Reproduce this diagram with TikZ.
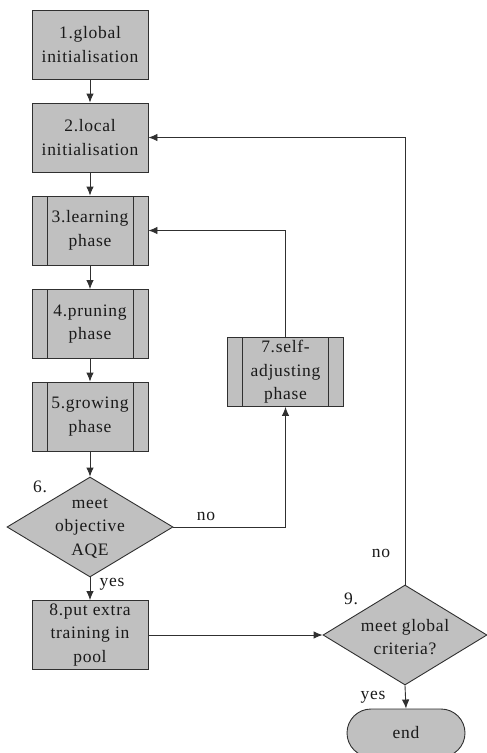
\documentclass[tikz,border=0pt]{standalone}
\usepackage{fontspec}
\setmainfont{Liberation Serif}[LetterSpace=4]
\usetikzlibrary{arrows.meta,shapes.geometric}
\definecolor{boxfill}{HTML}{C0C0C0}
\definecolor{edge}{HTML}{303030}
\definecolor{ink}{HTML}{1A1A1A}
\tikzset{
  fnt/.style={font=\fontsize{17.5}{23.5}\selectfont, text=ink},
  box/.style={fnt, draw=edge, fill=boxfill, line width=0.9pt, minimum width=116pt, minimum height=69pt, inner sep=0pt, align=center},
  sub/.style={box, path picture={
      \draw[edge, line width=0.9pt] ([xshift=15pt]path picture bounding box.north west) -- ([xshift=15pt]path picture bounding box.south west);
      \draw[edge, line width=0.9pt] ([xshift=-15pt]path picture bounding box.north east) -- ([xshift=-15pt]path picture bounding box.south east);}},
  dia/.style={diamond, draw=edge, fill=boxfill, line width=0.9pt, inner sep=0pt},
  txt/.style={fnt, align=center, inner sep=0pt},
  term/.style={fnt, draw=edge, fill=boxfill, line width=0.9pt, minimum width=118pt, minimum height=48pt, rounded corners=24pt, inner sep=0pt},
  arr/.style={draw=edge, line width=0.9pt, -{Latex[length=9pt,width=7.5pt]}},
  ln/.style={draw=edge, line width=0.9pt}
}
\begin{document}
\begin{tikzpicture}[x=1pt,y=-1pt]
\useasboundingbox (0,0) rectangle (487,753);
\clip (0,0) rectangle (487,753);
\node[box] (b1) at (90,44.5) {1.global\\initialisation};
\node[box] (b2) at (90,137.5) {2.local\\initialisation};
\node[sub] (b3) at (90,230.5) {3.learning\\phase};
\node[sub] (b4) at (90,324) {4.pruning\\phase};
\node[sub] (b5) at (90,416.5) {5.growing\\phase};
\node[dia, minimum width=166pt, minimum height=100pt] (d6) at (90,527) {};
\node[txt] (t6) at (90,528) {meet\\objective\\AQE};
\node[txt] (n6) at (40,487) {6.};
\node[sub] (b7) at (285.5,372) {7.self-\\adjusting\\phase};
\node[box] (b8) at (90,635) {8.put extra\\training in\\pool};
\node[dia, minimum width=164pt, minimum height=100pt] (d9) at (405,635) {};
\node[txt] (t9) at (405,637) {meet global\\criteria?};
\node[txt] (n9) at (351,599) {9.};
\node[term] (e) at (406,733) {end};

\draw[arr] (b1) -- (b2);
\draw[arr] (b2) -- (b3);
\draw[arr] (b3) -- (b4);
\draw[arr] (b4) -- (b5);
\draw[arr] (b5) -- (d6);
\draw[arr] (d6.south) -- (b8.north);
\node[txt] (yes6) at (112,584) {yes};
\draw[arr] (d6.east) -| (b7.south);
\node[txt] (no6) at (206,516) {no};
\draw[arr] (b7.north) |- (b3.east);
\draw[arr] (b8.east) -- (d9.west);
\draw[arr] (d9.north) |- (b2.east);
\node[txt] (no9) at (381,553) {no};
\draw[arr] (d9.south) -- (e.north);
\node[txt] (yes9) at (373,697) {yes};
\end{tikzpicture}
\end{document}
